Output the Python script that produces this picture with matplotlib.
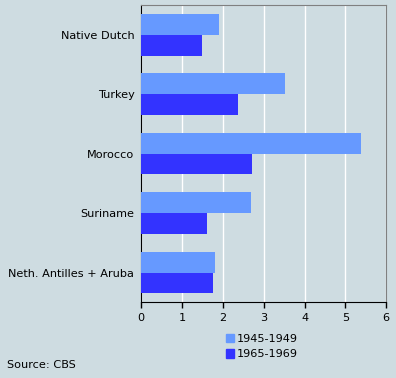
import matplotlib
matplotlib.use("Agg")
import matplotlib.pyplot as plt
import numpy as np
from matplotlib.patches import Patch

categories = ["Native Dutch", "Turkey", "Morocco", "Suriname", "Neth. Antilles + Aruba"]
series_1945 = [1.90, 3.52, 5.38, 2.69, 1.80]
series_1965 = [1.49, 2.37, 2.71, 1.61, 1.75]
labels = ["1945-1949", "1965-1969"]
xticks = [0, 1, 2, 3, 4, 5, 6]

bg = "#CEDCE1"
c1 = "#6699FF"
c2 = "#3333FF"
fs = 8.1

fig = plt.figure(figsize=(3.96, 3.78), dpi=100, facecolor=bg)
W, H = 396, 378
ax = fig.add_axes([141.3 / W, 1 - 302.3 / H, (386.3 - 141.3) / W, (302.3 - 5) / H])
ax.set_facecolor(bg)

y = np.arange(len(categories))
h = 0.35
ax.barh(y - h / 2, series_1945, height=h, color=c1, zorder=3)
ax.barh(y + h / 2, series_1965, height=h, color=c2, zorder=3)
ax.set_ylim(len(categories) - 0.5, -0.5)
ax.set_xlim(0, 6)
ax.set_xticks(xticks)
ax.set_yticks(y)
ax.set_yticklabels(categories)
ax.tick_params(axis="y", length=0, pad=5, labelsize=fs)
ax.tick_params(axis="x", length=4, width=1, labelsize=fs, direction="out")
ax.xaxis.grid(True, color="white", linewidth=1.0, zorder=0)
for s in ["left", "bottom"]:
    ax.spines[s].set_color("black")
for s in ["top", "right"]:
    ax.spines[s].set_color("#808080")

handles = [Patch(color=c1), Patch(color=c2)]
fig.legend(handles, labels, loc="upper left", bbox_to_anchor=(220 / W, 1 - 328 / H),
           frameon=False, fontsize=fs, handlelength=0.75, handleheight=0.75,
           handletextpad=0.25, labelspacing=0.5, borderpad=0)
fig.text(7 / W, 1 - 365 / H, "Source: CBS", fontsize=fs, va="center", ha="left")

fig.savefig("out.png", dpi=100, facecolor=bg)
